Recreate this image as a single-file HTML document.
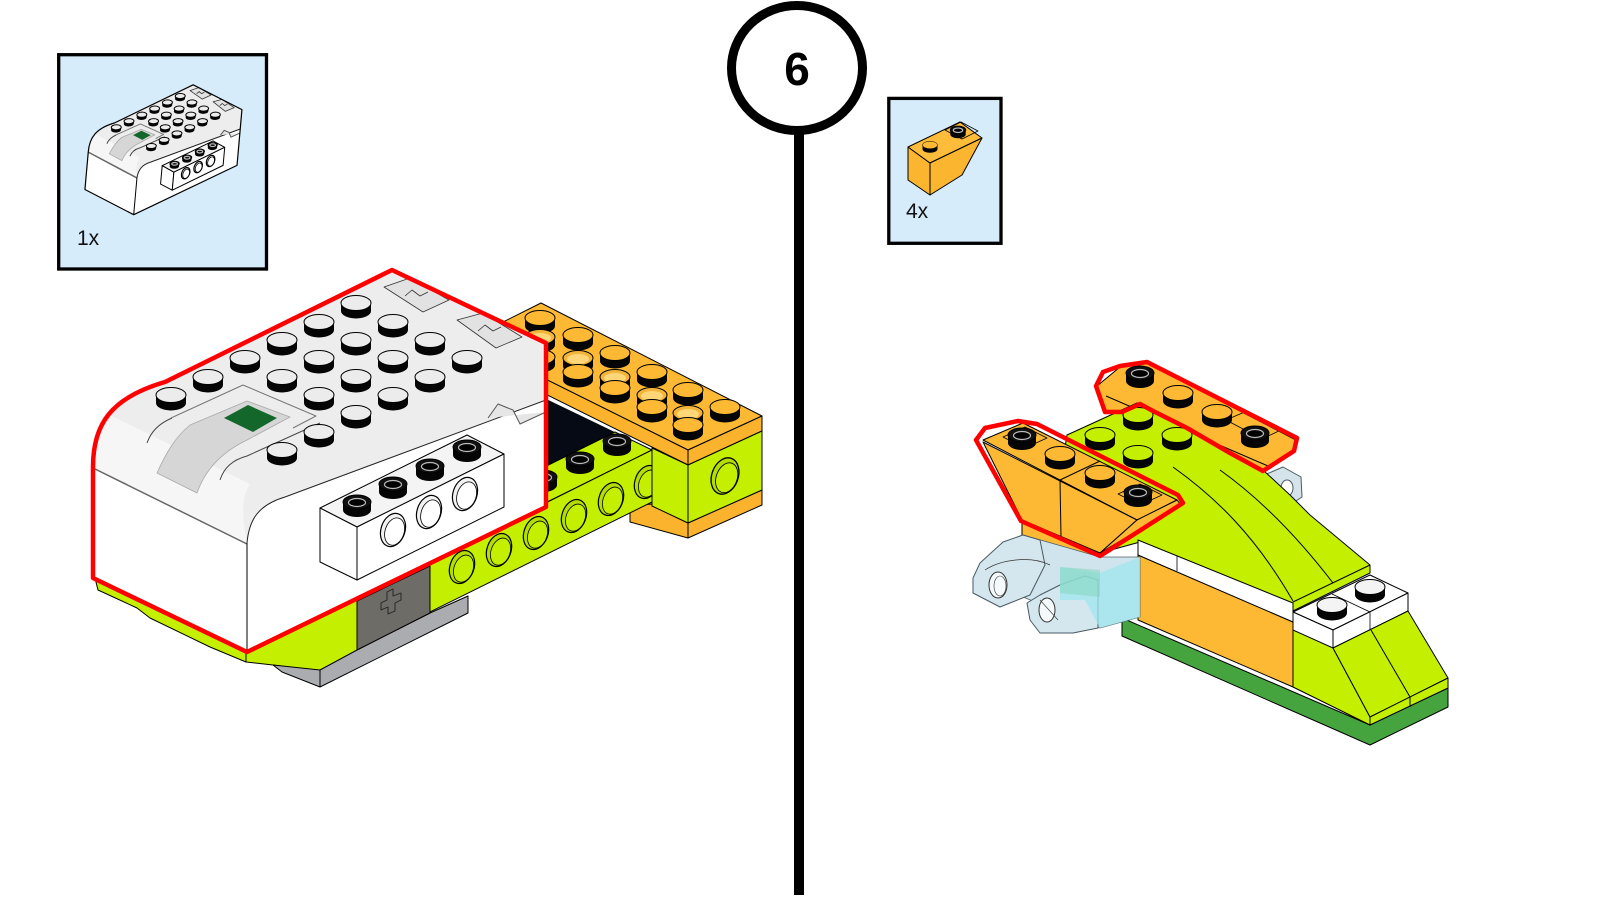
<!DOCTYPE html>
<html><head><meta charset="utf-8"><style>html,body{margin:0;padding:0;background:#fff}svg{display:block}</style></head>
<body>
<svg width="1600" height="900" viewBox="0 0 1600 900" xmlns="http://www.w3.org/2000/svg" font-family="'Liberation Sans', sans-serif">
<defs>
<g id="sW"><path d="M-15,0v8a15,7.5 0 0 0 30,0v-8z" fill="#050505"/><ellipse rx="15" ry="7.5" fill="#ececec" stroke="#000" stroke-width="1" vector-effect="non-scaling-stroke"/></g>
<g id="sO"><path d="M-15,0v8a15,7.5 0 0 0 30,0v-8z" fill="#050505"/><ellipse rx="15" ry="7.5" fill="#fdb934" stroke="#000" stroke-width="1"/></g>
<g id="sR"><path d="M-15,0v8a15,7.5 0 0 0 30,0v-8z" fill="#050505"/><ellipse rx="15" ry="7.5" fill="#f3b43a" stroke="#000" stroke-width="1"/><ellipse cy="1" rx="11" ry="5" fill="#ffd778"/></g>
<g id="sL"><path d="M-15,0v8a15,7.5 0 0 0 30,0v-8z" fill="#050505"/><ellipse rx="15" ry="7.5" fill="#c4f000" stroke="#000" stroke-width="1"/></g>
<g id="sH"><path d="M-15,0v8a15,7.5 0 0 0 30,0v-8z" fill="#050505"/><ellipse rx="15" ry="7.5" fill="#f4f4f4" stroke="#000" stroke-width="1"/></g>
<g id="sK"><path d="M-14,0v8a14,7 0 0 0 28,0v-8z" fill="#050505"/><ellipse rx="14" ry="7" fill="#111" stroke="#000" stroke-width="1" vector-effect="non-scaling-stroke"/><ellipse cy="0.5" rx="8.5" ry="4" fill="#000" stroke="#bbb" stroke-width="1.2" vector-effect="non-scaling-stroke"/></g>
<g id="hl" transform="rotate(20)"><ellipse rx="12" ry="17" fill="#b3de00" stroke="#000" stroke-width="1.2"/><ellipse cx="2" cy="1" rx="9.5" ry="14" fill="#c4f000" stroke="#000" stroke-width=".8"/></g>
<g id="hw" transform="rotate(18)"><ellipse rx="12" ry="17" fill="#f2f2f2" stroke="#000" stroke-width="1.2" vector-effect="non-scaling-stroke"/><ellipse cx="2" cy="1" rx="9.5" ry="14" fill="#fff" stroke="#000" stroke-width=".8" vector-effect="non-scaling-stroke"/></g>

<g id="hub" stroke-linejoin="round">
 <path d="M93,467 L247,543 L247,652 L93,578 Z" fill="#fff"/>
 <path d="M247,543 C249,520 258,505 285,497 L546,400 L546,507 L247,652 Z" fill="#fff"/>
 <path d="M93,467 C93,425 110,398 165,382 L392,270 L546,343 L546,400 L285,497 C258,505 249,520 247,543 Z" fill="#ededed"/>
 <path d="M93,467 C94,445 100,428 112,416 L250,484 C240,500 243,520 247,543 Z" fill="#f6f6f6"/>
 <line x1="93" y1="468" x2="247" y2="544" stroke="#666" stroke-width="1.5" vector-effect="non-scaling-stroke"/>
 <path d="M247,543 C249,520 258,505 285,497 L546,400" fill="none" stroke="#222" stroke-width="1" vector-effect="non-scaling-stroke"/>
 <line x1="247" y1="543" x2="247" y2="652" stroke="#000" stroke-width="1" vector-effect="non-scaling-stroke"/>
 <path d="M171,418 L243,385 L316,416 L293,428" fill="none" stroke="#777" stroke-width="1" vector-effect="non-scaling-stroke"/>
 <path d="M190,425 L247,401 L290,417 L247,440 C222,452 205,470 197,493 L157,473 C165,455 175,437 190,425 Z" fill="#d6d6d6" stroke="#aaa" stroke-width=".8" vector-effect="non-scaling-stroke"/>
 <polygon points="224,418 248,405 277,418 253,432" fill="#13672b"/>
 <path d="M147,443 C151,432 158,424 172,418" fill="none" stroke="#444" stroke-width="1" vector-effect="non-scaling-stroke"/>
 <path d="M220,480 C224,468 232,460 247,456 L320,423" fill="none" stroke="#444" stroke-width="1" vector-effect="non-scaling-stroke"/>
 <path d="M384,287 L410,278 L449,300 L423,312 Z" fill="#e2e2e2" stroke="#333" stroke-width=".8" vector-effect="non-scaling-stroke"/>
 <path d="M405,296 L412,290 L420,296 L428,292" fill="none" stroke="#333" stroke-width=".8" vector-effect="non-scaling-stroke"/>
 <path d="M457,320 L483,313 L522,337 L496,348 Z" fill="#e2e2e2" stroke="#333" stroke-width=".8" vector-effect="non-scaling-stroke"/>
 <path d="M478,331 L485,325 L493,331 L501,327" fill="none" stroke="#333" stroke-width=".8" vector-effect="non-scaling-stroke"/>
 <path d="M488,418 L498,404 L513,410 L520,424 L546,412" fill="#e6e6e6" stroke="#555" stroke-width="1" vector-effect="non-scaling-stroke"/>
 <path d="M93,467 C93,425 110,398 165,382 L392,270 L546,343 L546,507 L247,652 L93,578 Z" fill="none" stroke="#000" stroke-width="1.2" vector-effect="non-scaling-stroke"/>
 <use href="#sW" x="356" y="303"/>
 <use href="#sW" x="319" y="322"/><use href="#sW" x="393" y="322"/>
 <use href="#sW" x="282" y="340"/><use href="#sW" x="356" y="340"/><use href="#sW" x="430" y="340"/>
 <use href="#sW" x="245" y="358"/><use href="#sW" x="319" y="358"/><use href="#sW" x="393" y="358"/><use href="#sW" x="467" y="358"/>
 <use href="#sW" x="208" y="377"/><use href="#sW" x="282" y="377"/><use href="#sW" x="356" y="377"/><use href="#sW" x="430" y="377"/>
 <use href="#sW" x="171" y="395"/><use href="#sW" x="319" y="395"/><use href="#sW" x="393" y="395"/>
 <use href="#sW" x="356" y="413"/>
 <use href="#sW" x="319" y="432"/>
 <use href="#sW" x="282" y="450"/>
 <polygon points="320,508 357,527 504,454 467,435" fill="#f4f4f4" stroke="#000" stroke-width="1" vector-effect="non-scaling-stroke"/>
 <polygon points="320,508 357,527 357,580 320,562" fill="#fff" stroke="#000" stroke-width="1" vector-effect="non-scaling-stroke"/>
 <polygon points="357,527 504,454 504,507 357,580" fill="#fff" stroke="#000" stroke-width="1" vector-effect="non-scaling-stroke"/>
 <use href="#hw" transform="translate(393,530)"/>
 <use href="#hw" transform="translate(429,512)"/>
 <use href="#hw" transform="translate(465,494)"/>
 <use href="#sK" x="467" y="447"/><use href="#sK" x="430" y="466"/><use href="#sK" x="393" y="484"/><use href="#sK" x="357" y="502"/>
</g>
</defs>

<rect width="1600" height="900" fill="#fff"/>

<!-- 1x box -->
<rect x="58.7" y="54.7" width="207.8" height="214.3" fill="#d6ecfb" stroke="#000" stroke-width="3.3"/>
<use href="#hub" transform="matrix(0.331,0,-0.03,0.34,71.5,-7)"/>
<text x="77" y="245" font-size="21" fill="#111">1x</text>

<!-- step circle and divider -->
<rect x="794" y="126" width="10" height="769" fill="#000"/>
<ellipse cx="797" cy="68" rx="65.5" ry="62.5" fill="#fff" stroke="#000" stroke-width="9"/>
<text x="797" y="85" font-size="46" font-weight="bold" text-anchor="middle" fill="#000">6</text>

<!-- 4x box -->
<rect x="888.8" y="98.4" width="112.2" height="144.9" fill="#d6ecfb" stroke="#000" stroke-width="3.3"/>
<g stroke="#000" stroke-width="1" stroke-linejoin="round">
 <polygon points="908,147 930,163 930,195 908,180" fill="#fbb52f"/>
 <polygon points="908,147 960,122 982,138 930,163" fill="#fdbc3a"/>
 <polygon points="930,163 982,138 962,175 930,195" fill="#fbb52f"/>
 <polygon points="945,130 961,122 978,131 962,139" fill="none" stroke-width=".8"/>
</g>
<use href="#sO" transform="translate(930,145) scale(0.5)"/>
<use href="#sK" transform="translate(958,130) scale(0.55)"/>
<text x="906" y="218" font-size="21" fill="#111">4x</text>

<!-- LEFT MODEL -->
<g stroke="#000" stroke-width="1" stroke-linejoin="round">
 <polygon points="541,303 762,416 688,450 467,340" fill="#fdb934"/>
 <polygon points="467,340 688,450 688,465 467,355" fill="#fbb22c"/>
 <polygon points="688,450 762,416 762,431 688,465" fill="#fbb22c"/>
</g>
<use href="#sO" x="540" y="318"/>
<use href="#sO" x="578" y="335"/>
<use href="#sR" x="540" y="337"/>
<use href="#sO" x="615" y="353"/>
<use href="#sR" x="578" y="358"/>
<use href="#sO" x="540" y="357"/>
<use href="#sO" x="652" y="372"/>
<use href="#sO" x="578" y="372"/>
<use href="#sR" x="615" y="377"/>
<use href="#sO" x="615" y="388"/>
<use href="#sO" x="688" y="390"/>
<use href="#sR" x="652" y="395"/>
<use href="#sO" x="725" y="407"/>
<use href="#sO" x="652" y="407"/>
<use href="#sR" x="688" y="413"/>
<use href="#sO" x="688" y="425"/>
<g stroke="#000" stroke-width="1" stroke-linejoin="round">
 <polygon points="540,396 652,450 540,472" fill="#050a14" stroke="none"/>
 <polygon points="630,506 652,504 688,523 688,538 630,522" fill="#fbb22c"/>
 <polygon points="688,523 762,490 762,505 688,538" fill="#fbb22c"/>
 <polygon points="615,432 652,450 430,560 393,542" fill="#c4f000"/>
 <polygon points="652,450 652,502 357,648 357,597" fill="#c4f000"/>
</g>
<use href="#hl" transform="translate(462,567)"/>
<use href="#hl" transform="translate(499,550)"/>
<use href="#hl" transform="translate(536,533)"/>
<use href="#hl" transform="translate(574,516)"/>
<use href="#hl" transform="translate(611,499)"/>
<use href="#hl" transform="translate(647,482)"/>
<use href="#sK" x="617" y="441"/><use href="#sK" x="580" y="459"/><use href="#sK" x="543" y="477"/>
<g stroke="#000" stroke-width="1" stroke-linejoin="round">
 <polygon points="652,448 688,465 688,523 652,506" fill="#c4f000"/>
 <polygon points="688,465 762,431 762,490 688,523" fill="#c4f000"/>
</g>
<use href="#hl" transform="translate(725,476) scale(1.1)"/>
<g stroke="#000" stroke-width="1" stroke-linejoin="round">
 <polygon points="95,578 246,652 246,662 210,647 150,618 137,608 98,590" fill="#c4f000"/>
 <polygon points="246,652 357,600 357,650 320,671 273,665 246,662" fill="#c4f000"/>
 <polygon points="273,665 320,670 357,650 430,613 468,596 468,613 320,687 282,672" fill="#aaacb0"/>
 <line x1="320" y1="670" x2="320" y2="687"/>
 <polygon points="357,601 430,566 430,613 357,650" fill="#6d6c66"/>
 <path d="M387,592 L393,589 L393,596 L401,593 L401,600 L395,603 L395,611 L388,614 L388,607 L381,610 L381,603 L387,600 Z" fill="none" stroke="#222" stroke-width=".9"/>
</g>
<use href="#hub"/>
<path d="M93,467 C93,425 110,398 165,382 L392,270 L546,343 L546,507 L247,652 L93,578 Z" fill="none" stroke="#ff0000" stroke-width="4.5" stroke-linejoin="round"/>

<!-- RIGHT MODEL -->
<g stroke="#000" stroke-width="1" stroke-linejoin="round">
 <polygon points="1262,476 1283,467 1301,477 1302,497 1290,505 1270,494" fill="#d5e3ea" stroke="#4a5a62"/>
 <ellipse cx="1287" cy="488" rx="6" ry="8" fill="#fff" stroke="#4a5a62"/>
 <polygon points="1097,386 1120,367 1147,363 1296,440 1293,450 1263,470 1187,428 1140,404 1122,412 1105,412" fill="#fdb934"/>
 <line x1="1106" y1="396" x2="1268" y2="466"/>
 <polygon points="1226,420 1247,411 1283,429 1262,439" fill="none" stroke-width=".8"/>
</g>
<use href="#sK" x="1140" y="373"/>
<use href="#sO" x="1178" y="393"/>
<use href="#sO" x="1217" y="412"/>
<use href="#sK" x="1255" y="433"/>
<g stroke="#000" stroke-width="1" stroke-linejoin="round">
 <polygon points="1067,435 1137,403 1187,427 1263,470 1290,495 1310,515 1340,540 1370,565 1370,573 1293,611 1140,542 1100,553 1060,480" fill="#c4f000"/>
 <path d="M1173,467 C1215,497 1255,535 1293,601" fill="none"/>
 <path d="M1220,470 C1262,500 1300,540 1333,583" fill="none"/>
 <line x1="1293" y1="602" x2="1370" y2="565"/>
</g>
<use href="#sL" x="1138" y="415"/>
<use href="#sL" x="1100" y="435"/>
<use href="#sL" x="1177" y="435"/>
<use href="#sL" x="1138" y="453"/>
<g stroke="#000" stroke-width="1" stroke-linejoin="round">
 <polygon points="1122,618 1370,725 1448,688 1448,707 1370,745 1122,636" fill="#46a43f"/>
 <polygon points="1138,555 1293,622 1293,687 1138,620" fill="#fdb934"/>
 <polygon points="1138,540 1293,603 1293,622 1138,555" fill="#fff"/>
 <line x1="1177" y1="556" x2="1177" y2="571" stroke-width=".8"/>
 <polygon points="1293,612 1333,630 1333,648 1370,717 1370,725 1293,687" fill="#c4f000"/>
 <polygon points="1293,612 1370,575 1408,593 1333,630" fill="#fff"/>
 <polygon points="1293,612 1333,630 1333,648 1293,630" fill="#fff"/>
 <polygon points="1333,630 1408,593 1408,611 1333,648" fill="#fff"/>
 <line x1="1332" y1="594" x2="1370" y2="612" stroke-width=".8"/>
 <line x1="1370" y1="612" x2="1370" y2="630" stroke-width=".8"/>
 <polygon points="1333,648 1408,611 1448,678 1370,717" fill="#c4f000"/>
 <polygon points="1370,717 1448,678 1448,688 1370,725" fill="#c4f000"/>
 <line x1="1371" y1="630" x2="1410" y2="697"/>
 <line x1="1410" y1="697" x2="1410" y2="707"/>
</g>
<use href="#sH" x="1370" y="587"/>
<use href="#sH" x="1332" y="605"/>
<g stroke="#000" stroke-width="1" stroke-linejoin="round">
 <polygon points="1022,520 1100,553 1100,572 1022,539" fill="#fdb934"/>
 <!-- transparent connectors -->
 <polygon points="1023,535 1100,557 1140,557 1140,617 1100,628 1023,597" fill="#cfe4ec" stroke="#506068" stroke-width=".8"/>
 <polygon points="973,578 980,563 1003,542 1023,535 1040,540 1045,565 1030,595 1000,607 973,593" fill="#d4e7ee" stroke="#4a5a62"/>
 <path d="M985,570 C1000,560 1030,555 1050,565" fill="none" stroke="#333" stroke-width=".7"/>
 <ellipse cx="998" cy="585" rx="9" ry="13" fill="#f4fafc" stroke="#333"/>
 <ellipse cx="1000" cy="586" rx="6" ry="10" fill="none" stroke="#333" stroke-width=".6"/>
 <polygon points="1027,603 1040,595 1060,585 1085,576 1098,580 1098,628 1073,633 1040,633 1030,620" fill="#d4e7ee" stroke="#4a5a62"/>
 <ellipse cx="1047" cy="610" rx="8" ry="12" fill="#f4fafc" stroke="#333"/>
 <line x1="1040" y1="600" x2="1058" y2="620" stroke="#333" stroke-width=".6"/>
 <polygon points="1060,567 1100,573 1140,557 1140,617 1100,628 1085,600 1060,600" fill="#9fe6ee" fill-opacity=".75" stroke="none"/>
 <polygon points="1060,567 1100,570 1100,597 1060,593" fill="#7fd4b8" fill-opacity=".5" stroke="none"/>
 <!-- front orange brick -->
 <polygon points="983,440 1023,423 1177,500 1137,520" fill="#fdb934"/>
 <polygon points="983,442 1137,520 1100,553 1022,520" fill="#fdb934"/>
 <polygon points="1137,520 1177,500 1181,505 1100,553" fill="#fdb934"/>
 <line x1="1060" y1="480" x2="1100" y2="461"/>
 <line x1="1060" y1="480" x2="1061" y2="537"/>
 <polygon points="1003,437 1025,427 1047,438 1025,448" fill="none" stroke-width=".8"/>
 <polygon points="1118,494 1140,484 1162,495 1140,505" fill="none" stroke-width=".8"/>
</g>
<use href="#sK" x="1022" y="435"/>
<use href="#sO" x="1060" y="454"/>
<use href="#sO" x="1100" y="473"/>
<use href="#sK" x="1138" y="492"/>
<path d="M1105,412 L1096,386 L1103,372 L1120,366 L1147,362 L1297,438 L1294,451 L1263,471 L1230,453 L1187,428 L1153,411 L1140,404 L1122,412 Z" fill="none" stroke="#ff0000" stroke-width="4.5" stroke-linejoin="round"/>
<path d="M976,440 L985,428 L1018,421 L1037,424 L1178,495 L1183,503 L1100,556 L1021,521 Z" fill="none" stroke="#ff0000" stroke-width="4.5" stroke-linejoin="round"/>
</svg>
</body></html>
